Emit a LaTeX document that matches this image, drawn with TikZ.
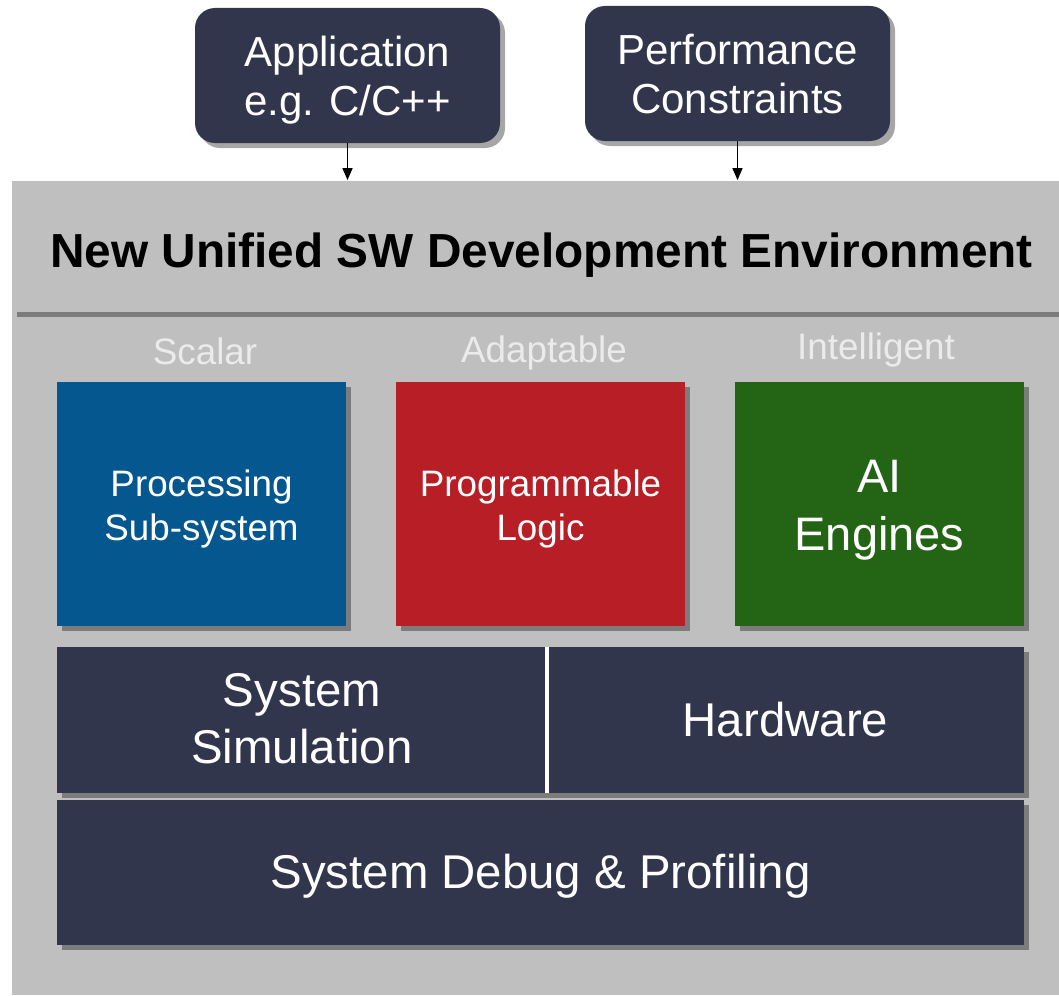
\documentclass[tikz,border=0pt]{standalone}
\usepackage{fontspec}
\setmainfont{Liberation Sans}
\usetikzlibrary{shadows,arrows.meta}

\definecolor{navy}{HTML}{31364D}
\definecolor{psblue}{HTML}{04578F}
\definecolor{plred}{HTML}{B81E25}
\definecolor{aigreen}{HTML}{246515}
\definecolor{panelgray}{HTML}{BFBFBF}
\definecolor{labelgray}{HTML}{EBEBEB}

% line box as in the slide: full ascent and descent (optional extra room on top)
\newcommand\linestrut[1][0pt]{\vrule width0pt height\dimexpr0.905em+#1\relax depth0.212em}
\newcommand\twolines[3][0pt]{\linestrut[#1]#2\\#3\linestrut}

\tikzset{
  ppt text/.style={execute at begin node={\linestrut[#1]}, execute at end node=\linestrut},
  ppt text/.default=0pt,
  shade box/.style={drop shadow={shadow xshift=2.5pt, shadow yshift=-2.5pt, fill=black, opacity=0.35}},
  input/.style={shade box, fill=navy, rounded corners=10pt, text=white, align=center,
    minimum width=152.5pt, minimum height=67.5pt, inner sep=0pt,
    font=\fontsize{21}{24.5}\selectfont},
  engine/.style={shade box, fill=#1, text=white, align=center,
    minimum width=144.5pt, minimum height=122pt, inner sep=0pt,
    font=\fontsize{18.4}{22}\selectfont},
  layer/.style={shade box, fill=navy, text=white, align=center, inner sep=0pt,
    font=\fontsize{23.7}{28.5}\selectfont},
  kind/.style={ppt text, text=labelgray, inner sep=0pt, font=\fontsize{18.4}{22}\selectfont}
}

\begin{document}
\begin{tikzpicture}[x=0.5pt,y=-0.5pt]
\useasboundingbox (0,0) rectangle (1059,995);

% panel
\fill[panelgray] (12,181) rectangle (1059,995);

% header
\node[shade box, fill=panelgray, minimum width=529.5pt, minimum height=65.5pt, inner sep=0pt,
  execute at begin node={\vrule width0pt height1.1em depth0.212em},
  font=\fontsize{23.9}{28}\selectfont\bfseries] (env) at (541.5,246)
  {New Unified SW Development Environment};

% inputs
\node[input] (app) at (347.5,75.5) {\twolines[0.75pt]{Application}{e.g. C/C++}};
\node[input] (perf) at (737.5,73.5) {\twolines[0.75pt]{Performance}{Constraints}};

\draw[-{Triangle[width=5pt,length=6pt]}, thick] (app.south) -- (app.south |- env.north);
\draw[-{Triangle[width=5pt,length=6pt]}, thick] (perf.south) -- (perf.south |- env.north);

% engines
\node[kind] (scalar) at (205,352) {Scalar};
\node[kind] (adapt) at (544,350) {Adaptable};
\node[kind] (intel) at (876,347) {Intelligent};

\node[engine=psblue] (ps) at (201.5,504) {\twolines[1.5pt]{Processing}{Sub-system}};
\node[engine=plred] (pl) at (540.5,504) {\twolines[1.5pt]{Programmable}{Logic}};
\node[engine=aigreen, font=\fontsize{23.5}{29}\selectfont] (ai) at (879.5,504) {\twolines[1.5pt]{AI}{Engines}};

% layers
\node[layer, minimum width=245pt, minimum height=73pt] (sim) at (302,720) {\twolines[-1.5pt]{System}{Simulation}};
\node[layer, ppt text, minimum width=238.5pt, minimum height=73pt] (hw) at (785.5,720) {Hardware};
\draw[white, line width=2pt] (sim.north east) -- (sim.south east);
\node[layer, ppt text, minimum width=483.5pt, minimum height=72.5pt] (dbg) at (540.5,872.5) {System Debug \& Profiling};

\end{tikzpicture}
\end{document}
